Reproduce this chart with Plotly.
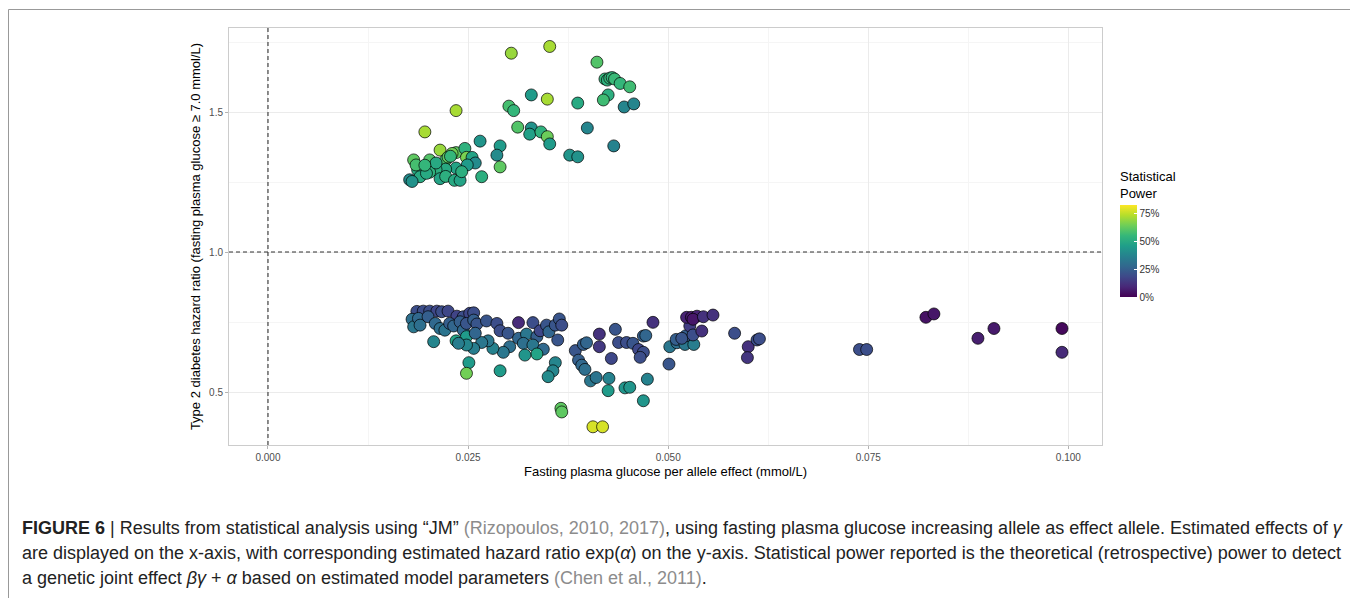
import plotly.graph_objects as go

# ---- data ----
upper_x = [0.0304, 0.0352, 0.0411, 0.0421, 0.0424, 0.0427, 0.0430, 0.0433, 0.0440, 0.0452,
           0.0425, 0.0419, 0.0387, 0.0445, 0.0457, 0.0329, 0.0349, 0.0301, 0.0307, 0.0235,
           0.0196, 0.0312, 0.0329, 0.0327, 0.0341, 0.0349, 0.0352, 0.0399, 0.0432, 0.0377,
           0.0387, 0.0265, 0.0290, 0.0286, 0.0290, 0.0267, 0.0215, 0.0235, 0.0246, 0.0248,
           0.0255, 0.0259, 0.0249, 0.0222, 0.0202, 0.0182, 0.0235, 0.0222, 0.0210, 0.0194,
           0.0202, 0.0187, 0.0190, 0.0177, 0.0180, 0.0215, 0.0222, 0.0233, 0.0240, 0.0185,
           0.0198, 0.0225, 0.0230, 0.0228, 0.0210, 0.0242, 0.0196]
upper_hr = [1.710, 1.734, 1.678, 1.618, 1.614, 1.621, 1.623, 1.618, 1.602, 1.590,
            1.561, 1.543, 1.532, 1.518, 1.529, 1.561, 1.546, 1.521, 1.505, 1.505,
            1.429, 1.446, 1.443, 1.421, 1.429, 1.412, 1.386, 1.443, 1.379, 1.346,
            1.340, 1.396, 1.379, 1.346, 1.304, 1.269, 1.364, 1.355, 1.370, 1.338,
            1.338, 1.318, 1.311, 1.329, 1.329, 1.329, 1.300, 1.296, 1.294, 1.304,
            1.285, 1.293, 1.269, 1.258, 1.252, 1.262, 1.270, 1.256, 1.256, 1.311,
            1.281, 1.339, 1.352, 1.342, 1.318, 1.287, 1.310]
upper_power = [0.70, 0.72, 0.60, 0.55, 0.53, 0.55, 0.54, 0.56, 0.55, 0.57,
               0.52, 0.57, 0.50, 0.38, 0.38, 0.45, 0.72, 0.58, 0.55, 0.72,
               0.72, 0.60, 0.42, 0.47, 0.53, 0.64, 0.45, 0.38, 0.37, 0.43,
               0.42, 0.43, 0.45, 0.40, 0.62, 0.52, 0.70, 0.62, 0.53, 0.66,
               0.48, 0.40, 0.45, 0.58, 0.60, 0.62, 0.48, 0.50, 0.52, 0.55,
               0.53, 0.50, 0.50, 0.40, 0.42, 0.48, 0.52, 0.50, 0.48, 0.58,
               0.50, 0.62, 0.65, 0.55, 0.50, 0.52, 0.55]

lower_x = [0.0186, 0.0194, 0.0202, 0.0211, 0.0217, 0.0225, 0.0236, 0.0244, 0.0252, 0.0257,
           0.0180, 0.0182, 0.0188, 0.0190, 0.0200, 0.0209, 0.0215, 0.0221, 0.0227, 0.0232,
           0.0240, 0.0244, 0.0248, 0.0257, 0.0261, 0.0273, 0.0286, 0.0290, 0.0300, 0.0313,
           0.0313, 0.0323, 0.0331, 0.0336, 0.0340, 0.0348, 0.0351, 0.0359, 0.0364, 0.0367,
           0.0362, 0.0302, 0.0319, 0.0331, 0.0344, 0.0336, 0.0321, 0.0294, 0.0281, 0.0275,
           0.0267, 0.0257, 0.0248, 0.0248, 0.0235, 0.0238, 0.0259, 0.0207, 0.0251, 0.0248,
           0.0290, 0.0359, 0.0356, 0.0350, 0.0366, 0.0367,
           0.0384, 0.0388, 0.0392, 0.0396, 0.0403, 0.0410, 0.0394, 0.0398, 0.0414, 0.0414,
           0.0434, 0.0429, 0.0438, 0.0448, 0.0456, 0.0469, 0.0472, 0.0463, 0.0469, 0.0465,
           0.0481, 0.0426, 0.0425, 0.0446, 0.0452, 0.0474, 0.0469, 0.0406, 0.0418, 0.0501,
           0.0502, 0.0511, 0.0510, 0.0521, 0.0532, 0.0522, 0.0517, 0.0527, 0.0531, 0.0523,
           0.0529, 0.0536, 0.0531, 0.0542, 0.0544, 0.0556, 0.0583, 0.0600, 0.0599, 0.0611,
           0.0614, 0.0739, 0.0748, 0.0822, 0.0832, 0.0887, 0.0907, 0.0992, 0.0992]
lower_hr = [0.788, 0.789, 0.789, 0.789, 0.787, 0.789, 0.771, 0.769, 0.781, 0.783,
            0.760, 0.733, 0.763, 0.739, 0.769, 0.745, 0.727, 0.721, 0.745, 0.736,
            0.751, 0.721, 0.745, 0.757, 0.743, 0.754, 0.745, 0.719, 0.710, 0.748,
            0.692, 0.707, 0.748, 0.698, 0.719, 0.739, 0.715, 0.739, 0.761, 0.739,
            0.686, 0.662, 0.674, 0.668, 0.653, 0.636, 0.632, 0.642, 0.656, 0.683,
            0.677, 0.656, 0.698, 0.668, 0.683, 0.674, 0.710, 0.680, 0.605, 0.567,
            0.576, 0.605, 0.576, 0.555, 0.442, 0.429,
            0.648, 0.614, 0.596, 0.581, 0.540, 0.552, 0.670, 0.676, 0.707, 0.662,
            0.724, 0.620, 0.677, 0.677, 0.674, 0.700, 0.702, 0.652, 0.642, 0.624,
            0.749, 0.549, 0.505, 0.515, 0.517, 0.546, 0.469, 0.376, 0.376, 0.600,
            0.662, 0.676, 0.688, 0.670, 0.670, 0.701, 0.692, 0.736, 0.704, 0.767,
            0.767, 0.771, 0.760, 0.718, 0.769, 0.775, 0.710, 0.662, 0.623, 0.686,
            0.690, 0.652, 0.652, 0.767, 0.779, 0.692, 0.727, 0.727, 0.642]
lower_power = [0.20, 0.20, 0.20, 0.18, 0.20, 0.18, 0.17, 0.20, 0.18, 0.20,
               0.30, 0.33, 0.28, 0.30, 0.25, 0.28, 0.30, 0.32, 0.25, 0.27,
               0.25, 0.28, 0.22, 0.25, 0.22, 0.22, 0.20, 0.20, 0.22, 0.10,
               0.27, 0.33, 0.20, 0.25, 0.18, 0.22, 0.27, 0.22, 0.22, 0.20,
               0.22, 0.30, 0.30, 0.33, 0.28, 0.48, 0.43, 0.33, 0.37, 0.33,
               0.33, 0.35, 0.45, 0.38, 0.48, 0.35, 0.27, 0.38, 0.45, 0.65,
               0.45, 0.38, 0.38, 0.40, 0.62, 0.62,
               0.22, 0.25, 0.28, 0.30, 0.33, 0.32, 0.25, 0.27, 0.12, 0.14,
               0.22, 0.18, 0.20, 0.20, 0.22, 0.25, 0.27, 0.18, 0.20, 0.20,
               0.12, 0.37, 0.45, 0.43, 0.43, 0.37, 0.43, 0.78, 0.78, 0.22,
               0.33, 0.30, 0.25, 0.33, 0.35, 0.25, 0.22, 0.15, 0.20, 0.08,
               0.06, 0.08, 0.05, 0.12, 0.12, 0.12, 0.20, 0.12, 0.13, 0.20,
               0.20, 0.20, 0.20, 0.04, 0.05, 0.07, 0.06, 0.02, 0.10]

x_effect = upper_x + lower_x
hazard_ratio = upper_hr + lower_hr
power = upper_power + lower_power

x_ticks = [0.0, 0.025, 0.05, 0.075, 0.1]
x_tick_labels = ["0.000", "0.025", "0.050", "0.075", "0.100"]
y_ticks = [0.5, 1.0, 1.5]
y_tick_labels = ["0.5", "1.0", "1.5"]
cb_ticks = [0.0, 0.25, 0.5, 0.75]
cb_labels = ["0%", "25%", "50%", "75%"]

FONT = "Liberation Sans, Arial, sans-serif"

fig = go.Figure()
fig.add_trace(go.Scatter(
    x=x_effect, y=hazard_ratio, mode="markers",
    marker=dict(
        size=12, color=power, colorscale="Viridis", cmin=0.0, cmax=0.83,
        line=dict(color="black", width=0.7),
        colorbar=dict(
            title=dict(text="Statistical<br>Power", side="top",
                       font=dict(size=13, color="black", family=FONT)),
            tickvals=cb_ticks, ticktext=cb_labels,
            tickfont=dict(size=10, color="#333333", family=FONT),
            ticks="inside", tickcolor="white", ticklen=3, tickwidth=1,
            thickness=17, thicknessmode="pixels",
            len=129, lenmode="pixels",
            x=1.0206, xanchor="left", xpad=0,
            y=(445 - 297) / 417, yanchor="bottom", ypad=0,
            outlinewidth=0, borderwidth=0,
        ),
    ),
    showlegend=False, hoverinfo="x+y",
))

fig.add_vline(x=0, line=dict(color="#333333", width=1.1, dash="4px,3px"))
fig.add_hline(y=1, line=dict(color="#333333", width=1.1, dash="4px,3px"))

axis_common = dict(
    showgrid=True, gridcolor="#ebebeb", gridwidth=1,
    zeroline=False, showline=True, linecolor="#cccccc", linewidth=1, mirror=True,
    ticks="outside", ticklen=3, tickcolor="#b3b3b3",
    tickfont=dict(size=10, color="#4d4d4d", family=FONT),
)
fig.update_xaxes(
    range=[-0.00487, 0.1042], tickvals=x_ticks, ticktext=x_tick_labels,
    minor=dict(dtick=0.025, tick0=0.0125, showgrid=True, gridcolor="#f5f5f5", gridwidth=1),
    title=dict(text="Fasting plasma glucose per allele effect (mmol/L)",
               font=dict(size=13, color="black", family=FONT), standoff=4),
    **axis_common,
)
fig.update_yaxes(
    range=[0.311, 1.80], tickvals=y_ticks, ticktext=y_tick_labels,
    minor=dict(dtick=0.5, tick0=0.25, showgrid=True, gridcolor="#f5f5f5", gridwidth=1),
    title=dict(text="Type 2 diabetes hazard ratio (fasting plasma glucose \u2265 7.0 mmol/L)",
               font=dict(size=13, color="black", family=FONT), standoff=5),
    **axis_common,
)

# caption (figure legend text); positions given relative to the plot panel
GREY = "#8c8c8c"
cap_lines = [
    "<b>FIGURE 6</b> | Results from statistical analysis using \u201cJM\u201d "
    f"<span style='color:{GREY}'>(Rizopoulos, 2010, 2017)</span>, using fasting plasma glucose "
    "increasing allele as effect allele. Estimated effects of <i>\u03b3</i>",
    "are displayed on the x-axis, with corresponding estimated hazard ratio exp(<i>\u03b1</i>) "
    "on the y-axis. Statistical power reported is the theoretical (retrospective) power to detect",
    "a genetic joint effect <i>\u03b2\u03b3</i> + <i>\u03b1</i> based on estimated model parameters "
    f"<span style='color:{GREY}'>(Chen et al., 2011)</span>.",
]
cap_y_px = [528, 553, 578]
for txt, ypx in zip(cap_lines, cap_y_px):
    fig.add_annotation(
        text=txt, xref="paper", yref="paper",
        x=(20 - 229) / 873, y=(445 - ypx) / 417,
        xanchor="left", yanchor="middle", showarrow=False,
        font=dict(size=18, color="#222222", family=FONT),
    )

# outer frame of the figure
fig.add_shape(type="rect", xref="paper", yref="paper",
              x0=(8.5 - 229) / 873, x1=(1355.5 - 229) / 873,
              y0=(445 - 640) / 417, y1=(445 - 9.5) / 417,
              line=dict(color="#999999", width=1), fillcolor="rgba(0,0,0,0)", layer="below")

# page body has an 8px margin, so the figure is offset by 8px
fig.update_layout(
    width=1350, height=590,
    margin=dict(l=221, r=256, t=20, b=153),
    paper_bgcolor="white", plot_bgcolor="white",
    font=dict(family=FONT),
)

fig.write_html("out.html")
